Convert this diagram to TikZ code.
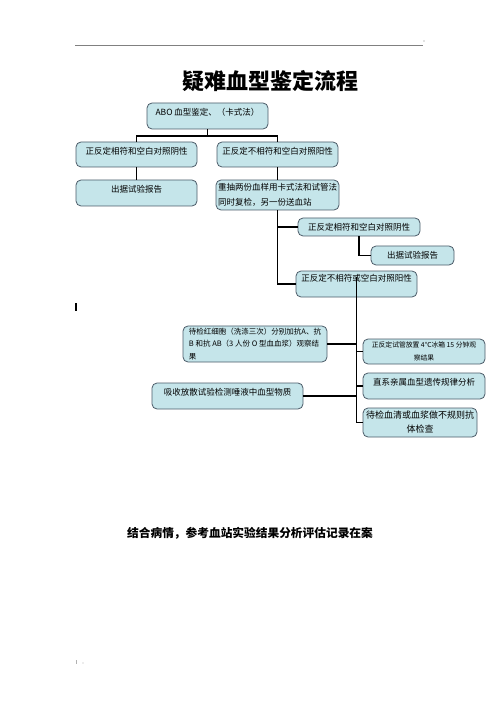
\documentclass[tikz,border=0pt]{standalone}
\usepackage{fontspec}
\setmainfont{Noto Sans CJK SC}
\usepackage{tikz}
\definecolor{boxfill}{HTML}{C5E5EA}
\definecolor{boxline}{HTML}{4B5B68}
\begin{document}
\begin{tikzpicture}[x=1pt,y=-1pt]
\tikzset{blk/.style={draw=boxline,fill=boxfill,rounded corners=5pt,line width=0.8pt,
inner sep=2pt,align=center,font=\fontsize{8.5}{11}\selectfont}}
\tikzset{hitop/.style={text height=10.5pt,text depth=#1}}
\tikzset{link/.style={draw,black,line width=1.8pt}}
\useasboundingbox (0,0) rectangle (500,708);
% page marks
\draw[gray,line width=0.8pt] (75,45) -- (423,45);
\fill[gray] (424,41) circle (0.7);
\fill[black] (74.5,303) rectangle (76.5,311);
\fill[gray!60] (76,660) rectangle (77,664);
\fill[gray!60] (83,663) circle (0.6);
\node[font=\fontsize{22}{26}\selectfont\bfseries] (title) at (270,81) {疑难血型鉴定流程};
% boxes
\node[blk,hitop=11.5pt,minimum width=121pt] (abo) at (207.5,116) {ABO 血型鉴定、（卡式法）};
\node[blk,hitop=10.5pt,minimum width=121pt] (agree) at (136.5,154.5) {正反定相符和空白对照阴性};
\node[blk,hitop=10.5pt,minimum width=121pt] (disagree) at (277.5,154.5) {正反定不相符和空白对照阳性};
\node[blk,hitop=11.5pt,minimum width=121pt] (report) at (136.5,193) {出据试验报告};
\node[blk,align=left,minimum width=121pt,minimum height=30pt,
font=\fontsize{8.5}{15}\selectfont] (redraw) at (277.5,195)
{重抽两份血样用卡式法和试管法\\同时复检，另一份送血站};
\node[blk,minimum width=122pt,minimum height=18pt] (agreeb) at (359,227) {正反定相符和空白对照阴性};
\node[blk,minimum width=83pt,minimum height=19pt] (reportb) at (412.5,255.5) {出据试验报告};
\node[blk,text height=8.5pt,text depth=13.5pt,minimum width=121pt] (disagreeb) at (356.5,284)
{正反定不相符或空白对照阳性};
\node[blk,align=left,minimum width=144pt,minimum height=36pt,
font=\fontsize{7.5}{12.5}\selectfont] (cells) at (255,344)
{待检红细胞（洗涤三次）分别加抗A、抗\\B 和抗 AB（3 人份 O 型血血浆）观察结\\果};
\node[blk,minimum width=122pt,minimum height=25pt,
font=\fontsize{6.8}{13}\selectfont] (cold) at (424,351.5)
{正反定试管放置 4℃冰箱 15 分钟观\\察结果};
\node[blk,hitop=11.5pt,minimum width=122pt] (kin) at (424,386) {直系亲属血型遗传规律分析};
\node[blk,hitop=11.5pt,minimum width=151pt] (saliva) at (227.5,396) {吸收放散试验检测唾液中血型物质};
\node[blk,minimum width=114pt,minimum height=29pt,
font=\fontsize{9}{14}\selectfont] (serum) at (420,422.5)
{待检血清或血浆做不规则抗\\体检查};
\node[font=\fontsize{11.7}{14}\selectfont\bfseries] (summary) at (250,533)
{结合病情，参考血站实验结果分析评估记录在案};
% connectors
\draw[link] (abo.south) -- ++(0,7) -| (agree.north);
\draw[link] (abo.south) -- ++(0,7) -| (disagree.north);
\draw[link] (agree.south) -- (report.north);
\draw[link] (disagree.south) -- (redraw.north);
\draw[link] (redraw.south) |- (agreeb.west);
\draw[link] (redraw.south) |- (disagreeb.west);
\draw[link] (agreeb.south) |- (reportb.west);
\draw[link] ([yshift=-6pt]disagreeb.north) |- (serum.west);
\draw[link] (cells.east) -- (cells.east -| disagreeb.north);
\draw[link] (cold.west -| disagreeb.north) -- (cold.west);
\draw[link] (kin.west -| disagreeb.north) -- (kin.west);
\draw[link] (saliva.east) -- (saliva.east -| disagreeb.north);
\end{tikzpicture}
\end{document}
